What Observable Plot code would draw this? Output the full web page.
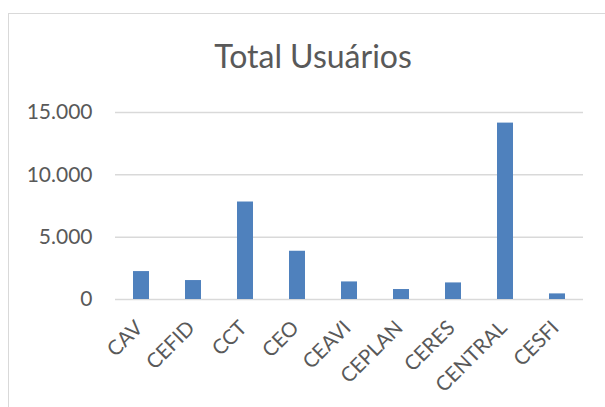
<!DOCTYPE html>
<html>
<head>
<meta charset="utf-8">
<script src="https://cdn.jsdelivr.net/npm/d3@7"></script>
<script src="https://cdn.jsdelivr.net/npm/@observablehq/plot@0.6"></script>
<style>
  html, body { margin: 0; padding: 0; background: #fff; }
  #wrap { position: relative; width: 605px; height: 407px; overflow: hidden; }
  #frame { position: absolute; left: 8px; top: 13px; width: 700px; height: 500px; border: 1.5px solid #d9d9d9; box-sizing: border-box; }
  #title { position: absolute; left: 0; top: 36px; width: 626px; text-align: center; font-family: Lato, sans-serif; font-size: 32px; color: #595959; line-height: 40px; }
  #chart { position: absolute; left: 0; top: 0; }
</style>
</head>
<body>
<div id="wrap">
  <div id="frame"></div>
  <div id="title">Total Usuários</div>
  <div id="chart"></div>
</div>
<script>
const categories = ["CAV", "CEFID", "CCT", "CEO", "CEAVI", "CEPLAN", "CERES", "CENTRAL", "CESFI"];
const values = [2240, 1520, 7820, 3870, 1410, 800, 1330, 14150, 450];
const yTicks = [0, 5000, 10000, 15000];

const data = categories.map((c, i) => ({cat: c, value: values[i]}));
const ptBR = d3.formatLocale({decimal: ",", thousands: ".", grouping: [3], currency: ["R$", ""]});
const fmt = ptBR.format(",d");

const chart = Plot.plot({
  width: 605,
  height: 407,
  marginLeft: 115,
  marginRight: 22,
  marginTop: 112,
  marginBottom: 108,
  style: {fontFamily: "Lato, sans-serif", color: "#595959", background: "transparent", overflow: "visible"},
  x: {domain: categories, paddingInner: 0.69, paddingOuter: 0.345, align: 0.5, label: null},
  y: {domain: [0, 15000], label: null},
  marks: [
    Plot.gridY(yTicks, {stroke: "#d9d9d9", strokeOpacity: 1, strokeWidth: 1.5}),
    Plot.barY(data, {x: "cat", y: "value", fill: "#4f81bd"}),
    Plot.axisY(yTicks, {tickSize: 0, tickPadding: 23, tickFormat: fmt, fontSize: 21, fill: "#595959", label: null}),
    Plot.axisX({tickSize: 0, tickPadding: 25, dx: -2, tickRotate: -45, fontSize: 20.5, fill: "#595959", label: null})
  ]
});
document.getElementById("chart").appendChild(chart);
</script>
</body>
</html>
